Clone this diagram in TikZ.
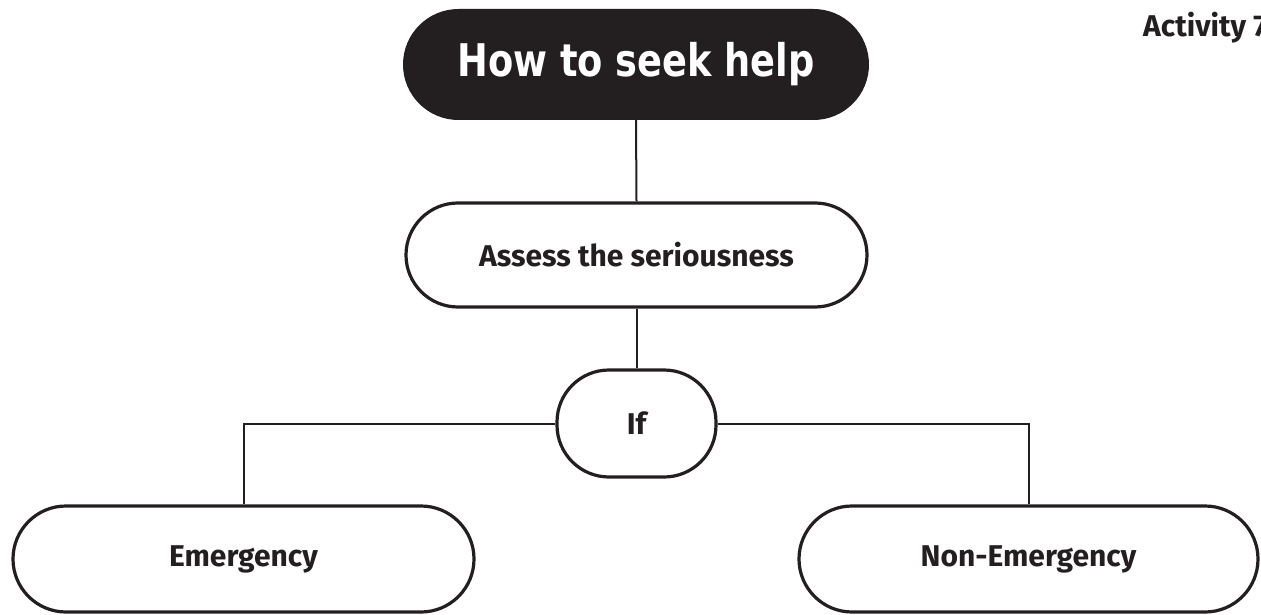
\documentclass[tikz,border=0pt]{standalone}
\usepackage{fontspec}
\setmainfont{Fira Sans}
\newfontfamily\titlefont{DejaVu Sans}
\usetikzlibrary{shapes.misc}
\definecolor{ink}{HTML}{231F20}
\begin{document}
\begin{tikzpicture}[x=1pt,y=-1pt,
  box/.style={draw=ink, line width=3.2pt, fill=white, inner sep=0pt,
     text=ink, font=\fontsize{30}{34}\selectfont\bfseries},
  pill/.style={rounded rectangle, rounded rectangle arc length=180},
  link/.style={draw=ink, line width=2pt}]
\useasboundingbox (0,0) rectangle (1261,615);
\fill[white] (0,0) rectangle (1261,615);
\node[pill, fill=ink, minimum width=466pt, minimum height=111pt, inner sep=0pt, text=white]
  (title) at (636,64.5) {\scalebox{0.817}[1]{\titlefont\bfseries\fontsize{45}{50}\selectfont How to seek help}};
\node[box, pill, minimum width=461pt, minimum height=104pt] (assess) at (636.5,255) {Assess the seriousness};
\node[box, rounded corners=52pt, minimum width=159pt, minimum height=107pt] (if) at (636.5,423.5) {If};
\node[box, pill, minimum width=461pt, minimum height=106pt] (emerg) at (243.5,559) {Emergency};
\node[box, pill, minimum width=459pt, minimum height=106pt] (nonemerg) at (1028.5,559) {Non-Emergency};
\node[anchor=base west, inner sep=0pt, text=ink, font=\fontsize{30}{34}\selectfont\bfseries] (act) at (1143,37) {Activity 7};
\draw[link] (title.south) -- (assess.north);
\draw[link] (assess.south) -- (if.north);
\draw[link] (if.west) -| (emerg.north);
\draw[link] (if.east) -| (nonemerg.north);
\end{tikzpicture}
\end{document}
